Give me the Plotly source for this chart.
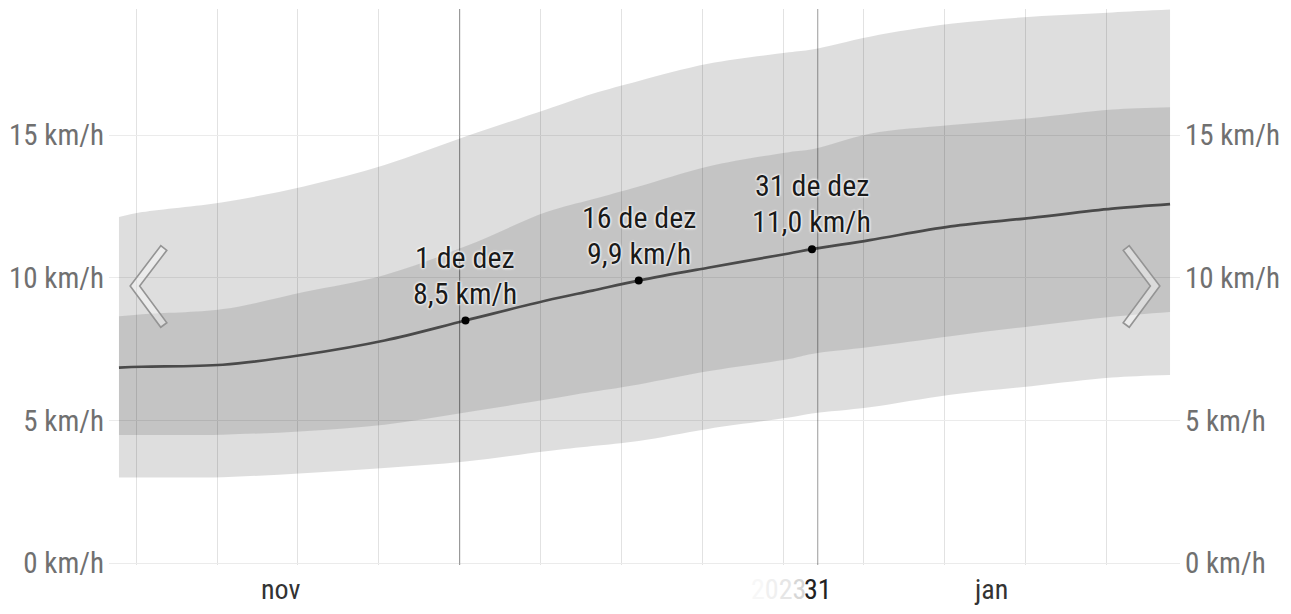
import numpy as np
import plotly.graph_objects as go

# dias (meio-dia) usados para as faixas de vento
dates = ["2023-11-01", "2023-11-03", "2023-11-10", "2023-11-17", "2023-11-24",
         "2023-12-01", "2023-12-08", "2023-12-12", "2023-12-16", "2023-12-22",
         "2023-12-29", "2023-12-31", "2024-01-05", "2024-01-12", "2024-01-19",
         "2024-01-26", "2024-01-31"]
p90 = [12.13, 12.3, 12.65, 13.2, 13.95, 14.95, 15.9, 16.45, 16.9, 17.5,
       17.9, 18.0, 18.45, 18.9, 19.15, 19.3, 19.4]
p75 = [8.65, 8.72, 8.9, 9.5, 10.1, 11.1, 12.3, 12.75, 13.2, 13.9,
       14.4, 14.5, 15.05, 15.35, 15.6, 15.9, 15.98]
median = [6.85, 6.88, 6.95, 7.3, 7.8, 8.5, 9.2, 9.55, 9.9, 10.35,
          10.85, 11.0, 11.32, 11.8, 12.1, 12.42, 12.58]
p25 = [4.49, 4.49, 4.5, 4.62, 4.85, 5.28, 5.73, 6.0, 6.26, 6.72,
       7.15, 7.33, 7.57, 7.95, 8.3, 8.63, 8.8]
p10 = [3.0, 3.0, 3.01, 3.15, 3.33, 3.56, 3.92, 4.1, 4.28, 4.7,
       5.1, 5.24, 5.46, 5.9, 6.2, 6.5, 6.59]

# pontos destacados
mark_idx = [5, 8, 11]
mark_names = ["1 de dez", "16 de dez", "31 de dez"]

y_ticks = [0, 5, 10, 15]
y_ticktext = [f"{v} km/h" for v in y_ticks]
month_pos = ["2023-11-15 12:00", "2024-01-16 00:00"]
month_text = ["nov", "jan"]
boundaries = ["2023-12-01", "2024-01-01"]

FONT = "Liberation Sans Narrow, Arial Narrow, Roboto Condensed, sans-serif"
x = [d + " 12:00" for d in dates]

fig = go.Figure()
band = dict(mode="lines", line=dict(width=0, shape="spline"), hoverinfo="skip", showlegend=False)
fig.add_trace(go.Scatter(x=x, y=p10, **band))
fig.add_trace(go.Scatter(x=x, y=p90, fill="tonexty", fillcolor="rgba(0,0,0,0.13)", **band))
fig.add_trace(go.Scatter(x=x, y=p25, **band))
fig.add_trace(go.Scatter(x=x, y=p75, fill="tonexty", fillcolor="rgba(0,0,0,0.115)", **band))
fig.add_trace(go.Scatter(x=x, y=median, mode="lines", showlegend=False,
                         line=dict(color="#4a4a4a", width=2.7, shape="spline")))
fig.add_trace(go.Scatter(x=[x[i] for i in mark_idx], y=[median[i] for i in mark_idx],
                         mode="markers", marker=dict(color="black", size=8), showlegend=False))
# eixo da direita
fig.add_trace(go.Scatter(x=[x[0]], y=[0], mode="markers", marker=dict(opacity=0),
                         yaxis="y2", showlegend=False, hoverinfo="skip"))

# rótulos dos pontos
halo = "0px 0px 3px white, 0px 0px 3px white, 0px 0px 2px white"
lab_font = dict(family=FONT, size=30, color="#1a1a1a", shadow=halo)
for i, name in zip(mark_idx, mark_names):
    val = f"{median[i]:.1f}".replace(".", ",")
    fig.add_annotation(x=x[i], y=median[i], text=f"{val} km/h", showarrow=False,
                       yanchor="bottom", yshift=8, font=lab_font)
    fig.add_annotation(x=x[i], y=median[i], text=name, showarrow=False,
                       yanchor="bottom", yshift=44, font=lab_font)

for xv, t in zip(month_pos, month_text):
    fig.add_annotation(x=xv, y=0, yref="paper", text=t, showarrow=False, yanchor="top", yshift=-6,
                       font=dict(family=FONT, size=28, color="#333"))
fig.add_annotation(x="2024-01-01", y=0, yref="paper", text="31", showarrow=False, yanchor="top",
                   yshift=-6, font=dict(family=FONT, size=28, color="#222"))
fig.add_annotation(x="2024-01-01", y=0, yref="paper", showarrow=False, yanchor="top", yshift=-6,
                   xanchor="right", xshift=-10,
                   text="<span style='color:#f7f7f7'>2</span><span style='color:#f0f0f0'>0</span>"
                        "<span style='color:#e6e6e6'>2</span><span style='color:#d6d6d6'>3</span>",
                   font=dict(family=FONT, size=28))

for b in boundaries:
    fig.add_shape(type="line", x0=b, x1=b, y0=0, y1=1, yref="paper",
                  line=dict(color="rgba(0,0,0,0.4)", width=1))

# setas de navegação (px da página -> paper); a página tem 8px de margem
OFF = 8
L, R, T, B = 105 - OFF, 1180 - OFF, 9 - OFF, 565 - OFF


def chevron(pts, h=3.8):
    P = np.array(pts, float) - OFF

    def side(sign):
        segs = []
        for a, b in zip(P[:-1], P[1:]):
            d = (b - a) / np.linalg.norm(b - a)
            n = np.array([-d[1], d[0]]) * sign * h
            segs.append((a + n, b + n))
        out = [segs[0][0]]
        for (a0, a1), (b0, b1) in zip(segs[:-1], segs[1:]):
            da, db = a1 - a0, b1 - b0
            t = np.cross(b0 - a0, db) / np.cross(da, db)
            out.append(a0 + t * da)
        out.append(segs[-1][1])
        return out

    poly = side(1) + side(-1)[::-1]
    conv = [((px - L) / (R - L), (B - py) / (B - T)) for px, py in poly]
    return "M " + " L ".join(f"{a:.5f},{b:.5f}" for a, b in conv) + " Z"


for pts in ([(160, 248), (131, 286), (160, 325)], [(1126, 248), (1155, 286), (1126, 325)]):
    fig.add_shape(type="path", path=chevron(pts), xref="paper", yref="paper",
                  line=dict(color="#949494", width=1.6), fillcolor="rgba(255,255,255,0.4)")

axis_font = dict(family=FONT, size=29, color="#707070")
fig.update_layout(
    width=1291, height=614,
    margin=dict(l=L, r=1291 - R, t=T, b=614 - B),
    plot_bgcolor="white", paper_bgcolor="white",
    showlegend=False,
    xaxis=dict(range=["2023-10-31 15:20", "2024-02-01 08:40"], showticklabels=False,
               tick0="2023-11-03", dtick=7 * 86400000, showgrid=True, gridcolor="#e2e2e2",
               gridwidth=1, zeroline=False, showline=False),
    yaxis=dict(range=[-0.07, 19.42], tickvals=y_ticks, ticktext=y_ticktext, tickfont=axis_font,
               showgrid=True, gridcolor="#ebebeb", zeroline=False, ticklabelstandoff=4),
    yaxis2=dict(range=[-0.07, 19.42], tickvals=y_ticks, ticktext=y_ticktext, tickfont=axis_font,
                overlaying="y", side="right", showgrid=False, zeroline=False, ticklabelstandoff=4),
)

fig.write_html("out.html")
